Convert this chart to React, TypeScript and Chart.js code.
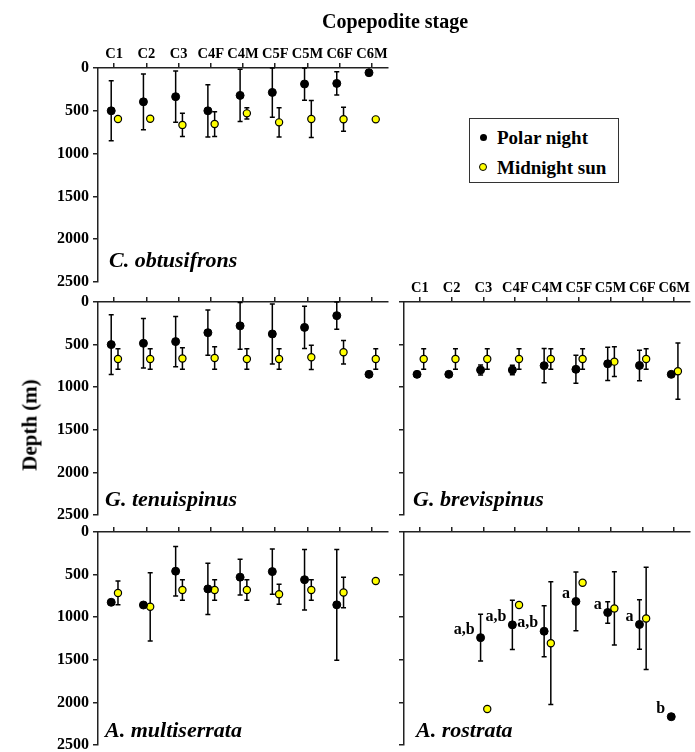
import React, { useEffect, useRef } from 'react';
import { Chart, registerables } from 'chart.js';
Chart.register(...registerables);

// ---------------- data ----------------
const stages = ['C1', 'C2', 'C3', 'C4F', 'C4M', 'C5F', 'C5M', 'C6F', 'C6M'];
const depthTicks = [0, 500, 1000, 1500, 2000, 2500];

// C. obtusifrons
const obtPolarMean = [500, 395, 335, 500, 320, 285, 187, 180, 55];
const obtPolarSd = [350, 325, 300, 305, 305, 290, 190, 135, null];
const obtSunMean = [596, 593, 665, 655, 530, 635, 596, 598, 600];
const obtSunSd = [null, null, 135, 145, 65, 170, 215, 140, null];

// G. tenuispinus
const tenPolarMean = [500, 485, 465, 360, 280, 375, 298, 160, 849];
const tenPolarSd = [350, 290, 295, 265, 275, 352, 248, 160, null];
const tenSunMean = [669, 669, 663, 657, 669, 669, 649, 590, 669];
const tenSunSd = [120, 120, 125, 132, 120, 120, 142, 137, 120];

// G. brevispinus
const brePolarMean = [849, 849, 798, 798, 747, 790, 725, 745, 849];
const brePolarSd = [null, null, 58, 55, 200, 165, 195, 180, null];
const breSunMean = [669, 669, 669, 669, 669, 669, 700, 669, 812];
const breSunSd = [120, 120, 120, 120, 120, 120, 175, 120, 330];

// A. multiserrata
const mulPolarMean = [825, 857, 460, 668, 530, 465, 560, 855, null];
const mulPolarSd = [25, null, 290, 300, 210, 265, 355, 650, null];
const mulSunMean = [715, 878, 680, 680, 680, 730, 680, 710, 575];
const mulSunSd = [140, 400, 120, 120, 120, 118, 120, 180, null];

// A. rostrata
const rosPolarMean = [null, null, 1240, 1090, 1165, 815, 945, 1085, 2168];
const rosPolarSd = [null, null, 275, 290, 300, 345, 125, 290, null];
const rosSunMean = [null, null, 2077, 857, 1305, 595, 897, 1015, null];
const rosSunSd = [null, null, null, null, 720, null, 430, 600, null];
const rosLetters = ['', '', 'a,b', 'a,b', 'a,b', 'a', 'a', 'a', 'b'];

const seriesNames = ['Polar night', 'Midnight sun'];

const SERIF = '"Liberation Serif", "Times New Roman", Times, serif';
const W = 695;
const H = 752;
const AXIS = '#222';

// ---------------- plugins ----------------
const errorBarPlugin = {
  id: 'errorBars',
  beforeDatasetsDraw(chart: any) {
    const { ctx } = chart;
    const x = chart.scales.x;
    const y = chart.scales.y;
    ctx.save();
    ctx.strokeStyle = '#000';
    ctx.lineWidth = 1.5;
    chart.data.datasets.forEach((ds: any) => {
      ds.means.forEach((m: number | null, i: number) => {
        const s = ds.sds[i];
        if (m == null || s == null) return;
        const px = x.getPixelForValue(i + ds.xOffset);
        const top = y.getPixelForValue(Math.max(0, m - s));
        const bot = y.getPixelForValue(m + s);
        ctx.beginPath();
        ctx.moveTo(px, top);
        ctx.lineTo(px, bot);
        ctx.moveTo(px - 2.5, top);
        ctx.lineTo(px + 2.5, top);
        ctx.moveTo(px - 2.5, bot);
        ctx.lineTo(px + 2.5, bot);
        ctx.stroke();
      });
    });
    ctx.restore();
  },
};

const letterPlugin = {
  id: 'letters',
  afterDatasetsDraw(chart: any) {
    const { ctx } = chart;
    const x = chart.scales.x;
    const y = chart.scales.y;
    ctx.save();
    ctx.fillStyle = '#000';
    ctx.font = `bold 16px ${SERIF}`;
    ctx.textAlign = 'right';
    ctx.textBaseline = 'middle';
    chart.data.datasets.forEach((ds: any) => {
      if (!ds.letters) return;
      ds.letters.forEach((t: string, i: number) => {
        const m = ds.means[i];
        if (!t || m == null) return;
        ctx.fillText(t, x.getPixelForValue(i + ds.xOffset) - 6, y.getPixelForValue(m) - 8);
      });
    });
    ctx.restore();
  },
};

// ---------------- panel ----------------
type PanelProps = {
  polarMean: (number | null)[];
  polarSd: (number | null)[];
  sunMean: (number | null)[];
  sunSd: (number | null)[];
  letters?: string[];
  area: { l: number; t: number; r: number; b: number };
  showX: boolean;
  showY: boolean;
};

const POLAR_OFF = -0.09;
const SUN_OFF = 0.12;

function pts(means: (number | null)[], off: number) {
  const out: { x: number; y: number }[] = [];
  means.forEach((m, i) => {
    if (m != null) out.push({ x: i + off, y: m });
  });
  return out;
}

function Panel(p: PanelProps) {
  const ref = useRef<HTMLCanvasElement | null>(null);
  useEffect(() => {
    if (!ref.current) return;
    const { l, t, r, b } = p.area;
    const gridOpts = {
      drawOnChartArea: false,
      drawTicks: true,
      tickLength: 5,
      color: AXIS,
      lineWidth: 1.5,
    };
    const borderOpts = { display: true, color: AXIS, width: 1.5 };
    const chart = new Chart(ref.current, {
      type: 'scatter',
      data: {
        datasets: [
          {
            label: seriesNames[0],
            data: pts(p.polarMean, POLAR_OFF),
            means: p.polarMean,
            sds: p.polarSd,
            xOffset: POLAR_OFF,
            letters: p.letters,
            pointRadius: 4,
            pointHoverRadius: 4,
            backgroundColor: '#000',
            borderColor: '#000',
            borderWidth: 1,
            clip: false,
          } as any,
          {
            label: seriesNames[1],
            data: pts(p.sunMean, SUN_OFF),
            means: p.sunMean,
            sds: p.sunSd,
            xOffset: SUN_OFF,
            pointRadius: 3.6,
            pointHoverRadius: 3.6,
            backgroundColor: '#ffff00',
            borderColor: '#000',
            borderWidth: 1.2,
            clip: false,
          } as any,
        ],
      },
      options: {
        responsive: false,
        animation: false,
        events: [],
        layout: { padding: { left: 0, top: 0, right: W - r, bottom: H - b } },
        plugins: { legend: { display: false }, tooltip: { enabled: false } },
        scales: {
          x: {
            type: 'linear',
            position: 'top',
            min: -0.5,
            max: 8.5,
            afterBuildTicks: (a: any) => {
              a.ticks = stages.map((_, i) => ({ value: i }));
            },
            afterFit: (s: any) => {
              s.height = t;
              s.paddingLeft = 0;
              s.paddingRight = 0;
            },
            ticks: {
              display: p.showX,
              autoSkip: false,
              maxRotation: 0,
              padding: 0,
              color: '#000',
              font: { family: SERIF, size: 14.5, weight: 'bold' },
              callback: (v: any) => stages[Math.round(Number(v))] ?? '',
            },
            grid: gridOpts,
            border: borderOpts,
          },
          y: {
            type: 'linear',
            reverse: true,
            min: 0,
            max: 2500,
            afterBuildTicks: (a: any) => {
              a.ticks = depthTicks.map((v) => ({ value: v }));
            },
            afterFit: (s: any) => {
              s.width = l;
              s.paddingTop = 0;
              s.paddingBottom = 0;
            },
            ticks: {
              display: p.showY,
              padding: 4,
              color: '#000',
              font: { family: SERIF, size: 16, weight: 'bold' },
              callback: (v: any) => String(v),
            },
            grid: gridOpts,
            border: borderOpts,
          },
        },
      } as any,
      plugins: [errorBarPlugin, letterPlugin],
    });
    return () => chart.destroy();
  }, []);
  return (
    <canvas
      ref={ref}
      width={W}
      height={H}
      style={{ position: 'absolute', left: 0, top: 0, width: W, height: H }}
    />
  );
}

const txt: React.CSSProperties = {
  position: 'absolute',
  fontFamily: SERIF,
  fontWeight: 'bold',
  color: '#000',
  whiteSpace: 'nowrap',
  lineHeight: 1,
};

function Species({ name, x, baseline }: { name: string; x: number; baseline: number }) {
  return (
    <div style={{ ...txt, fontStyle: 'italic', fontSize: 22, left: x, top: baseline - 22 * 0.8375 }}>
      {name}
    </div>
  );
}

export default function App() {
  return (
    <div style={{ position: 'absolute', left: 0, top: 0, width: W, height: H, background: '#fff', overflow: 'hidden' }}>
      <Panel polarMean={obtPolarMean} polarSd={obtPolarSd} sunMean={obtSunMean} sunSd={obtSunSd}
        area={{ l: 98, t: 68, r: 388, b: 282 }} showX={true} showY={true} />
      <Panel polarMean={tenPolarMean} polarSd={tenPolarSd} sunMean={tenSunMean} sunSd={tenSunSd}
        area={{ l: 98, t: 302, r: 388, b: 515 }} showX={false} showY={true} />
      <Panel polarMean={mulPolarMean} polarSd={mulPolarSd} sunMean={mulSunMean} sunSd={mulSunSd}
        area={{ l: 98, t: 532, r: 388, b: 745 }} showX={false} showY={true} />
      <Panel polarMean={brePolarMean} polarSd={brePolarSd} sunMean={breSunMean} sunSd={breSunSd}
        area={{ l: 404, t: 302, r: 695, b: 515 }} showX={true} showY={false} />
      <Panel polarMean={rosPolarMean} polarSd={rosPolarSd} sunMean={rosSunMean} sunSd={rosSunSd}
        letters={rosLetters}
        area={{ l: 404, t: 532, r: 695, b: 745 }} showX={false} showY={false} />

      <div style={{ ...txt, fontSize: 20, left: 322, top: 28 - 20 * 0.8375 }}>Copepodite stage</div>
      <div style={{ ...txt, fontSize: 21, left: 30, top: 425, transform: 'translate(-50%, -50%) rotate(-90deg)' }}>
        Depth (m)
      </div>

      <Species name="C. obtusifrons" x={109} baseline={267} />
      <Species name="G. tenuispinus" x={105} baseline={506} />
      <Species name="A. multiserrata" x={105} baseline={737} />
      <Species name="G. brevispinus" x={413} baseline={506} />
      <Species name="A. rostrata" x={416} baseline={737} />

      <div style={{ position: 'absolute', left: 469, top: 118, width: 150, height: 65, boxSizing: 'border-box', border: '1.5px solid #333', background: '#fff' }} />
      <div style={{ position: 'absolute', left: 483 - 3.5, top: 137 - 3.5, width: 7, height: 7, borderRadius: '50%', background: '#000' }} />
      <div style={{ position: 'absolute', left: 483 - 4, top: 167 - 4, width: 8, height: 8, boxSizing: 'border-box', borderRadius: '50%', background: '#ffff00', border: '1px solid #000' }} />
      <div style={{ ...txt, fontSize: 19, left: 497, top: 137 - 9.5 }}>{seriesNames[0]}</div>
      <div style={{ ...txt, fontSize: 19, left: 497, top: 167 - 9.5 }}>{seriesNames[1]}</div>
    </div>
  );
}
